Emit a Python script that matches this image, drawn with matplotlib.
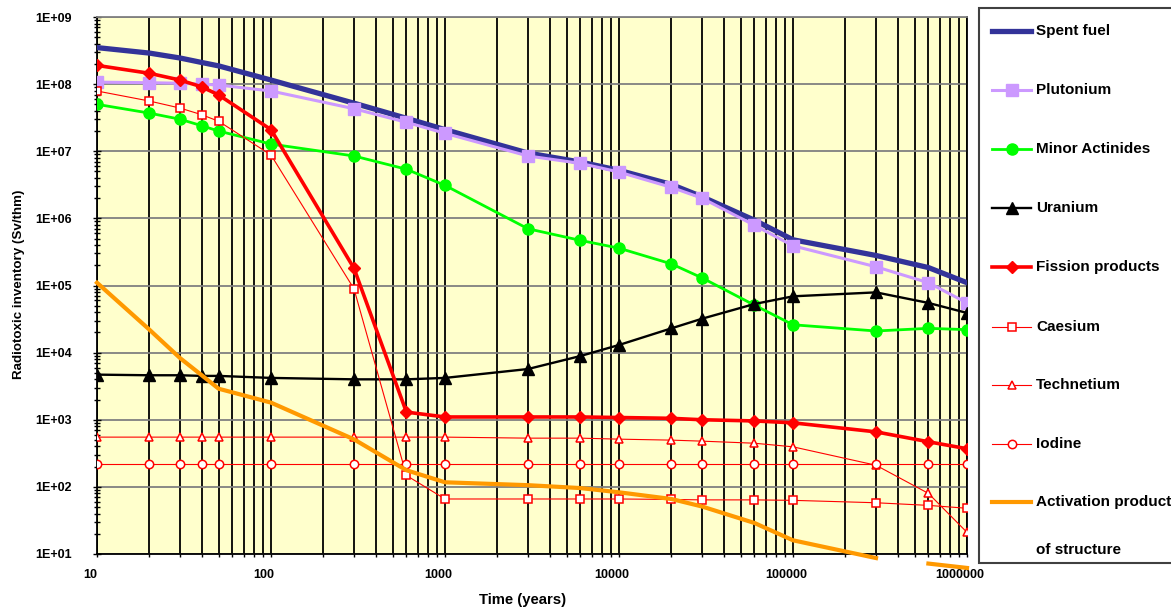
import matplotlib.pyplot as plt
import matplotlib.ticker as ticker
import matplotlib.transforms as mtransforms
from matplotlib.lines import Line2D
from matplotlib.patches import Rectangle
import numpy as np

plt.rcParams['font.family'] = ['Liberation Sans', 'DejaVu Sans']
plt.rcParams['font.weight'] = 'bold'

# time after discharge (years)
years = [10, 20, 30, 40, 50, 100, 300, 600, 1000, 3000, 6000, 10000,
         20000, 30000, 60000, 100000, 300000, 600000, 1000000]

# radiotoxic inventory (Sv/thm)
spent_fuel = [3.5e8, 2.9e8, 2.45e8, 2.1e8, 1.87e8, 1.15e8, 5.2e7, 3.1e7, 2.1e7, 9.4e6,
              6.9e6, 5.2e6, 3.2e6, 2.1e6, 9.4e5, 4.8e5, 2.8e5, 1.85e5, 1.1e5]
plutonium = [1.07e8, 1.05e8, 1.03e8, 1.0e8, 9.7e7, 7.9e7, 4.3e7, 2.7e7, 1.85e7, 8.5e6,
             6.6e6, 4.9e6, 2.9e6, 2.0e6, 7.9e5, 3.9e5, 1.9e5, 1.1e5, 5.5e4]
minor_actinides = [5.0e7, 3.7e7, 3.0e7, 2.4e7, 2.0e7, 1.28e7, 8.5e6, 5.4e6, 3.1e6, 7.0e5,
                   4.7e5, 3.6e5, 2.1e5, 1.3e5, 5.1e4, 2.6e4, 2.1e4, 2.3e4, 2.2e4]
uranium = [4.7e3, 4.6e3, 4.6e3, 4.5e3, 4.5e3, 4.2e3, 4.0e3, 4.0e3, 4.2e3, 5.7e3,
           8.9e3, 1.3e4, 2.3e4, 3.2e4, 5.3e4, 6.9e4, 7.9e4, 5.5e4, 3.9e4]
fission_products = [1.9e8, 1.45e8, 1.15e8, 9.1e7, 6.9e7, 2.1e7, 1.8e5, 1.3e3, 1.1e3, 1.1e3,
                    1.1e3, 1.08e3, 1.05e3, 1.0e3, 9.6e2, 9.0e2, 6.6e2, 4.7e2, 3.7e2]
caesium = [7.9e7, 5.6e7, 4.4e7, 3.5e7, 2.8e7, 8.8e6, 8.9e4, 148, 66, 66,
           66, 66, 65, 64, 64, 63, 58, 53, 48]
technetium = [551, 551, 551, 551, 551, 551, 551, 551, 551, 532,
              532, 514, 497, 480, 447, 395, 210, 80, 21]
iodine = [218, 218, 218, 218, 218, 218, 218, 218, 218, 218,
          218, 218, 218, 218, 218, 218, 218, 218, 218]
activation = [1.1e5, 2.2e4, 8.3e3, 4.6e3, 2.9e3, 1.8e3, 510, 177, 117, 106,
              96, 83, 66, 51, 29, 16, 8.7, 7.2, 6.2]

W, H = 1171, 608
fig = plt.figure(figsize=(W / 100, H / 100), dpi=100)
ax = fig.add_axes([97 / W, 1 - 554 / H, 870 / W, 537 / H])
ax.set_facecolor('#FFFFCC')


def px(x, y):
    return x / W, 1 - y / H


styles = [
    ('Spent fuel', spent_fuel, dict(color='#333399', lw=3.8)),
    ('Plutonium', plutonium, dict(color='#CC99FF', lw=2.2, marker='s', ms=9)),
    ('Minor Actinides', minor_actinides, dict(color='#00FF00', lw=2.0, marker='o', ms=8)),
    ('Uranium', uranium, dict(color='black', lw=1.7, marker='^', ms=8)),
    ('Fission products', fission_products, dict(color='#FF0000', lw=2.6, marker='D', ms=6.5)),
    ('Caesium', caesium, dict(color='#FF0000', lw=0.8, marker='s', ms=6,
                              mfc='white', mec='#FF0000', mew=1.1)),
    ('Technetium', technetium, dict(color='#FF0000', lw=0.8, marker='^', ms=6,
                                    mfc='white', mec='#FF0000', mew=1.1)),
    ('Iodine', iodine, dict(color='#FF0000', lw=0.8, marker='o', ms=6,
                            mfc='white', mec='#FF0000', mew=1.1)),
]

for i, (name, vals, kw) in enumerate(styles):
    ax.plot(years, vals, zorder=3 + i * 0.1, **kw)

# structure activation products drop below the axis floor
ax.plot(years[:17], activation[:17], color='#FF9900', lw=3.0, zorder=4, clip_on=False)
ax.plot(years[17:], activation[17:], color='#FF9900', lw=3.0, zorder=4, clip_on=False)

ax.set_xscale('log')
ax.set_yscale('log')
ax.set_xlim(10, 1e6)
ax.set_ylim(10, 1e9)

ax.xaxis.set_major_locator(ticker.LogLocator(base=10, numticks=20))
ax.xaxis.set_minor_locator(ticker.LogLocator(base=10, subs=np.arange(2, 10), numticks=100))
ax.yaxis.set_major_locator(ticker.LogLocator(base=10, numticks=20))
ax.yaxis.set_minor_locator(ticker.LogLocator(base=10, subs=np.arange(2, 10), numticks=100))
ax.xaxis.set_major_formatter(ticker.FuncFormatter(lambda v, p: f'{int(round(v))}'))
ax.yaxis.set_major_formatter(
    ticker.FuncFormatter(lambda v, p: f'1E+{int(round(np.log10(v))):02d}'))
ax.xaxis.set_minor_formatter(ticker.NullFormatter())
ax.yaxis.set_minor_formatter(ticker.NullFormatter())

ax.grid(True, which='both', axis='x', color='black', lw=1.3)
ax.grid(True, which='major', axis='y', color='#808080', lw=1.3)
ax.set_axisbelow(True)

ax.tick_params(axis='y', which='major', direction='inout', length=6, width=1,
               pad=15, labelsize=9)
ax.tick_params(axis='y', which='minor', direction='inout', length=5, width=1)
ax.tick_params(axis='x', which='both', direction='out', length=2, width=1,
               pad=9, labelsize=9)

for spine in ['left', 'bottom']:
    ax.spines[spine].set_linewidth(1.3)
ax.spines['top'].set_color('#808080')
ax.spines['top'].set_linewidth(1.3)
ax.spines['right'].set_linewidth(1.3)

shift = mtransforms.ScaledTranslation(-7 / 100, 0, fig.dpi_scale_trans)
for lab in ax.get_xticklabels():
    lab.set_transform(lab.get_transform() + shift)

ax.set_xlabel('Time (years)', fontsize=10.7, fontweight='bold', va='center')
ax.xaxis.set_label_coords((523 - 97) / 870, (554 - 600) / 537)
ax.set_ylabel('Radiotoxic inventory (Sv/thm)', fontsize=9.6, fontweight='bold',
              va='center', ha='center')
ax.yaxis.set_label_coords((19 - 97) / 870, (554 - 284) / 537)

# legend panel on the right
x0, y0 = px(979, 563)
x1, y1 = px(1200, 8)
fig.add_artist(Rectangle((x0, y0), x1 - x0, y1 - y0, transform=fig.transFigure,
                         facecolor='white', edgecolor='#404040', lw=1.5, clip_on=False))

entries = [(name, kw) for name, vals, kw in styles]
entries.append(('Activation products', dict(color='#FF9900', lw=3.0)))
rows = [30.7, 90, 149, 208, 267, 327, 385, 444, 502]
for (name, kw), ry in zip(entries, rows):
    line_kw = {k: v for k, v in kw.items() if k not in ('marker', 'ms', 'mfc', 'mec', 'mew')}
    lx0, ly = px(992, ry)
    lx1, _ = px(1031, ry)
    fig.add_artist(Line2D([lx0, lx1], [ly, ly], transform=fig.transFigure, **line_kw))
    if 'marker' in kw:
        mk = {k: v for k, v in kw.items() if k in ('marker', 'ms', 'mfc', 'mec', 'mew', 'color')}
        mx, _ = px(1011.5, ry)
        fig.add_artist(Line2D([mx], [ly], transform=fig.transFigure, lw=0, **mk))
    tx, ty = px(1036, ry)
    fig.text(tx, ty, name, fontsize=11, fontweight='bold', va='center', ha='left')
tx, ty = px(1036, 550)
fig.text(tx, ty, 'of structure', fontsize=11, fontweight='bold', va='center', ha='left')

fig.savefig('out.png', dpi=100)
